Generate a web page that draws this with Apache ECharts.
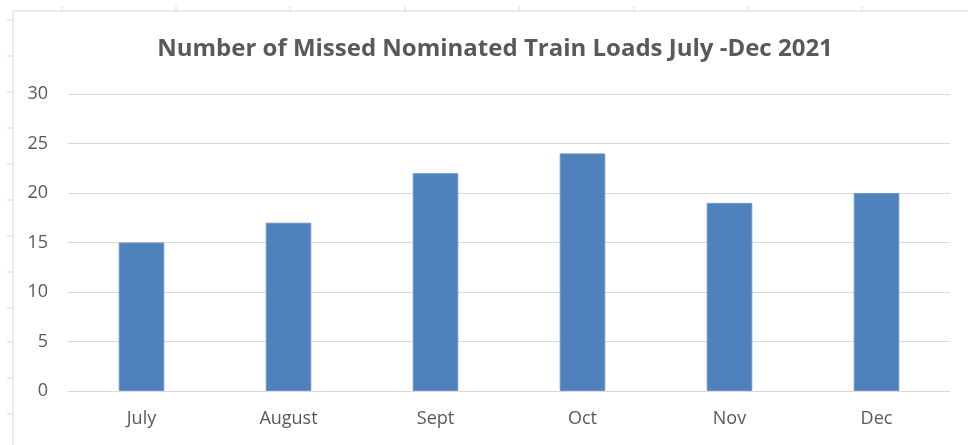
<!DOCTYPE html>
<html>
<head>
<meta charset="utf-8">
<script src="https://cdn.jsdelivr.net/npm/echarts@6/dist/echarts.min.js"></script>
<style>
  html, body { margin: 0; padding: 0; background: #fff; }
  #chart { width: 968px; height: 445px; }
</style>
</head>
<body>
<div id="chart"></div>
<script>
const months = ['July', 'August', 'Sept', 'Oct', 'Nov', 'Dec'];
const missedLoads = [15, 17, 22, 24, 19, 20];
const yTicks = [0, 5, 10, 15, 20, 25, 30];

// sheet cell gridlines peeking around the chart frame
const colMarks = [62, 176, 290, 405, 519, 634, 748, 862];
const rowMarks = [20, 56, 92, 128, 164, 200, 236, 272, 308, 342, 378, 414];

const frame = [
  { type: 'line', shape: { x1: 13, y1: 11, x2: 968, y2: 11 }, style: { stroke: '#d9d9d9', lineWidth: 1 } },
  { type: 'line', shape: { x1: 13, y1: 11, x2: 13, y2: 445 }, style: { stroke: '#d9d9d9', lineWidth: 1 } }
];
colMarks.forEach(x => frame.push({ type: 'line', shape: { x1: x, y1: 6, x2: x, y2: 11 }, style: { stroke: '#d9d9d9', lineWidth: 1 } }));
rowMarks.forEach(y => frame.push({ type: 'line', shape: { x1: 7, y1: y, x2: 13, y2: y }, style: { stroke: '#d9d9d9', lineWidth: 1 } }));

const chart = echarts.init(document.getElementById('chart'));
chart.setOption({
  animation: false,
  backgroundColor: '#fff',
  title: {
    text: 'Number of Missed Nominated Train Loads July -Dec 2021',
    left: 490,
    textAlign: 'center',
    top: 32,
    textStyle: { fontFamily: 'Open Sans', fontWeight: 'bold', fontSize: 24, color: '#595959' }
  },
  grid: { left: 68, right: 18, top: 94, bottom: 54 },
  xAxis: {
    type: 'category',
    data: months,
    axisLine: { show: true, lineStyle: { color: '#d9d9d9' } },
    axisTick: { show: false },
    axisLabel: { color: '#595959', fontFamily: 'Open Sans', fontSize: 18, margin: 19 }
  },
  yAxis: {
    type: 'value',
    min: yTicks[0],
    max: yTicks[yTicks.length - 1],
    interval: 5,
    axisLine: { show: false },
    axisTick: { show: false },
    splitLine: { lineStyle: { color: '#d9d9d9', width: 1 } },
    axisLabel: { color: '#595959', fontFamily: 'Open Sans', fontSize: 18, margin: 20 }
  },
  series: [{
    type: 'bar',
    data: missedLoads,
    barWidth: '31%',
    itemStyle: { color: '#4f81bd', borderColor: '#6a95c8', borderWidth: 1 }
  }],
  graphic: frame
});
</script>
</body>
</html>
